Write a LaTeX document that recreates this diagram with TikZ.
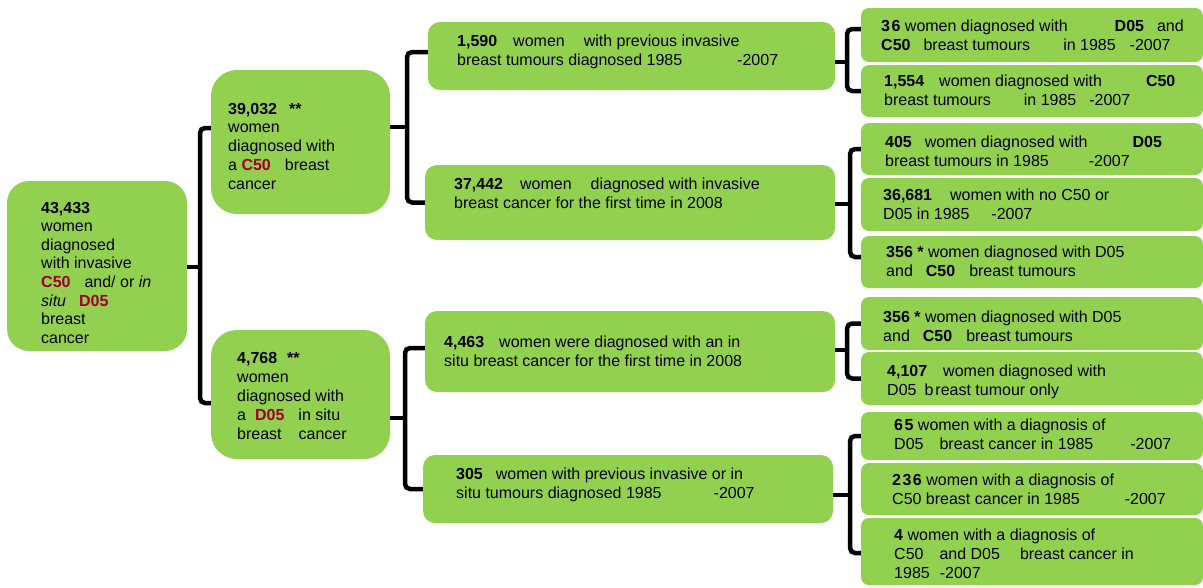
\documentclass[tikz,border=0pt]{standalone}
\usepackage{fontspec}
\setmainfont{Liberation Sans}
\definecolor{boxgreen}{HTML}{92D050}
\definecolor{icdred}{HTML}{A0002A}
\newcommand{\icd}[1]{\textcolor{icdred}{\textbf{#1}}}

\begin{document}
\begin{tikzpicture}[x=1pt, y=-1pt,
            box/.style={fill=boxgreen, draw=none, inner sep=0pt, rounded corners=#1},
            rbox/.style={box=8pt, minimum width=342pt},
            mbox/.style={box=12pt},
            txt/.style={anchor=north west, inner sep=0pt, align=left, yshift=-2pt,
                font=\fontsize{16}{18.8}\selectfont, execute at begin node=\strut},
            brk/.style={draw=black, line width=4.5pt, rounded corners=5pt}]

            \useasboundingbox (0,0) rectangle (1203,587);

            \node[box=22pt, minimum width=180pt, minimum height=170pt] (root) at (97,266) {};
            \node[box=26pt, minimum width=179pt, minimum height=144pt] (c39032) at (300.5,142) {};
            \node[box=26pt, minimum width=179pt, minimum height=129pt] (c4768) at (300.5,394.5) {};

            \node[mbox, minimum width=407pt, minimum height=68pt] (b1590) at (631.5,56) {};
            \node[mbox, minimum width=410pt, minimum height=75pt] (b37442) at (630,202.5) {};
            \node[mbox, minimum width=410pt, minimum height=81pt] (b4463) at (630,351.5) {};
            \node[mbox, minimum width=410pt, minimum height=68pt] (b305) at (628,489) {};

            \node[rbox, minimum height=54pt] (r36) at (1032,35) {};
            \node[rbox, minimum height=52pt] (r1554) at (1032,91) {};
            \node[rbox, minimum height=52pt] (r405) at (1032,149) {};
            \node[rbox, minimum height=53pt] (r36681) at (1032,204.5) {};
            \node[rbox, minimum height=52pt] (r356a) at (1032,262) {};
            \node[rbox, minimum height=53pt] (r356b) at (1032,323.5) {};
            \node[rbox, minimum height=53pt] (r4107) at (1032,378.5) {};
            \node[rbox, minimum height=48pt] (r65) at (1032,436) {};
            \node[rbox, minimum height=52pt] (r236) at (1032,489) {};
            \node[rbox, minimum height=67pt] (r4) at (1032,551.5) {};

            \node[txt, font=\fontsize{16}{18.6}\selectfont] (troot) at (41,199.8)
                {\textbf{43,433}\\ women\\ diagnosed\\ with invasive\\
                 \icd{C50}\hspace{14pt}and/ or \textit{in}\\ \textit{situ}\hspace{13pt}\icd{D05}\\ breast\\ cancer};
            \node[txt, font=\fontsize{16}{18.75}\selectfont] (t39032) at (228,100.8)
                {\textbf{39,032}\hspace{12pt}\textbf{**}\\ women\\ diagnosed with\\ a \icd{C50}\hspace{14pt}breast\\ cancer};
            \node[txt, font=\fontsize{16}{19}\selectfont] (t4768) at (237,349.8)
                {\textbf{4,768}\hspace{10pt}\textbf{**}\\ women\\ diagnosed with\\ a\hspace{9pt}\icd{D05}\hspace{14pt}in situ\\ breast\hspace{17pt}cancer};

            \node[txt] (t1590) at (457,32.8)
                {\textbf{1,590}\hspace{16pt}women\hspace{19pt}with previous invasive\\ breast tumours diagnosed 1985\hspace{55pt}-2007};
            \node[txt] (t37442) at (454,175.8)
                {\textbf{37,442}\hspace{17pt}women\hspace{19pt}diagnosed with invasive\\ breast cancer for the first time in 2008};
            \node[txt] (t4463) at (444,333.8)
                {\textbf{4,463}\hspace{15pt}women were diagnosed with an in\\ situ breast cancer for the first time in 2008};
            \node[txt] (t305) at (456,465.8)
                {\textbf{305}\hspace{13pt}women with previous invasive or in\\ situ tumours diagnosed 1985\hspace{52pt}-2007};

            \node[txt] (t36) at (881,17.8)
                {\textbf{3\kern1.5pt 6} women diagnosed with\hspace{47pt}\textbf{D05}\hspace{13pt}and\\
                 \textbf{C50}\hspace{13pt}breast tumours\hspace{33pt}in 1985\hspace{14pt}-2007};
            \node[txt] (t1554) at (884,72.8)
                {\textbf{1,554}\hspace{15pt}women diagnosed with\hspace{44pt}\textbf{C50}\\
                 breast tumours\hspace{33pt}in 1985\hspace{13pt}-2007};
            \node[txt] (t405) at (885,133.8)
                {\textbf{405}\hspace{13pt}women diagnosed with\hspace{45pt}\textbf{D05}\\ breast tumours in 1985\hspace{40pt}-2007};
            \node[txt] (t36681) at (883,186.8)
                {\textbf{36,681}\hspace{18pt}women with no C50 or\\ D05 in 1985\hspace{22pt}-2007};
            \node[txt] (t356a) at (886,243.8)
                {\textbf{356} \textbf{*} women diagnosed with D05\\ and\hspace{13pt}\textbf{C50}\hspace{14pt}breast tumours};
            \node[txt] (t356b) at (883,308.8)
                {\textbf{356} \textbf{*} women diagnosed with D05\\ and\hspace{13pt}\textbf{C50}\hspace{14pt}breast tumours};
            \node[txt] (t4107) at (887,362.8)
                {\textbf{4,107}\hspace{16pt}women diagnosed with\\ D05\hspace{8pt}b\kern2pt reast tumour only};
            \node[txt] (t65) at (894,416.8)
                {\textbf{6\kern1.5pt 5} women with a diagnosis of\\ D05\hspace{16pt}breast cancer in 1985\hspace{37pt}-2007};
            \node[txt] (t236) at (892,471.8)
                {\textbf{2\kern1.5pt 3\kern1.5pt 6} women with a diagnosis of\\ C50 breast cancer in 1985\hspace{45pt}-2007};
            \node[txt] (t4) at (894,526.8)
                {\textbf{4} women with a diagnosis of\\ C50\hspace{16pt}and D05\hspace{20pt}breast cancer in\\ 1985\hspace{10pt}-2007};

            \coordinate (j1) at (200,267);
            \coordinate (j2) at (407,127);
            \coordinate (j3) at (405,418);
            \coordinate (j4) at (847,62);
            \coordinate (j5) at (850,204);
            \coordinate (j6) at (847,350);
            \coordinate (j7) at (850,495);

            \draw[brk] (root.east |- j1) -- (j1);
            \draw[brk] ([yshift=14pt]c39032.west) -| (j1) |- ([yshift=-8.5pt]c4768.west);
            \draw[brk] (c39032.east |- j2) -- (j2);
            \draw[brk] ([yshift=4pt]b1590.west) -| (j2) |- (b37442.west);
            \draw[brk] (c4768.east |- j3) -- (j3);
            \draw[brk] ([yshift=3.5pt]b4463.west) -| (j3) |- (b305.west);
            \draw[brk] (b1590.east |- j4) -- (j4);
            \draw[brk] ([yshift=6pt]r36.west) -| (j4) |- (r1554.west);
            \draw[brk] (b37442.east |- j5) -- (j5);
            \draw[brk] (r405.west) -| (j5) |- ([yshift=5pt]r356a.west);
            \draw[brk] (b4463.east |- j6) -- (j6);
            \draw[brk] (r356b.west) -| (j6) |- (r4107.west);
            \draw[brk] (b305.east |- j7) -- (j7);
            \draw[brk] (r65.west) -| (j7) |- ([yshift=-1.5pt]r4.west);
        \end{tikzpicture}
\end{document}
